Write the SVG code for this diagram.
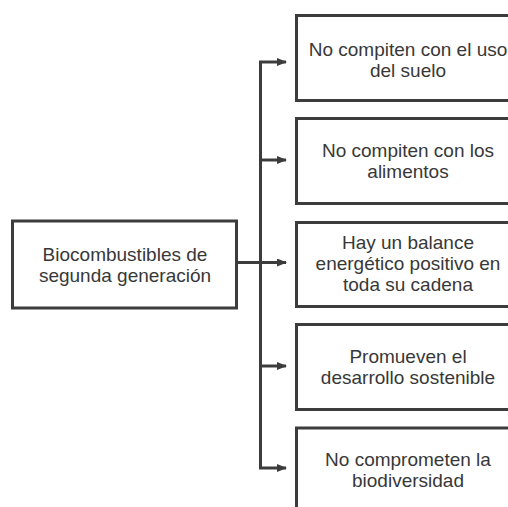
<svg xmlns="http://www.w3.org/2000/svg" width="508" height="507" viewBox="0 0 508 507">
<defs>
<style>
.box{fill:#fff;stroke:#3c3c3c;stroke-width:3}
.t{font-family:"Liberation Sans",Arial,sans-serif;font-size:19px;fill:#383838;text-anchor:middle}
.c{fill:none;stroke:#3c3c3c;stroke-width:3}
</style>
<marker id="ah" markerWidth="10" markerHeight="8" refX="9" refY="4" orient="auto" markerUnits="userSpaceOnUse">
<path d="M0,0 L10,4 L0,8 Z" fill="#3c3c3c"/>
</marker>
</defs>
<rect width="508" height="507" fill="#fff"/>
<g id="connectors">
<path class="c" d="M260.5,62 V468"/>
<path class="c" d="M238,262.5 H286" marker-end="url(#ah)"/>
<path class="c" d="M259,62 H286" marker-end="url(#ah)"/>
<path class="c" d="M260.5,160 H286" marker-end="url(#ah)"/>
<path class="c" d="M260.5,366 H286" marker-end="url(#ah)"/>
<path class="c" d="M259,468 H286" marker-end="url(#ah)"/>
</g>
<g id="root">
<rect class="box" x="12.5" y="221" width="224" height="87"/>
<text class="t" x="125" y="261">Biocombustibles de</text>
<text class="t" x="125" y="282">segunda generación</text>
</g>
<g id="n1">
<rect class="box" x="296.5" y="15.5" width="224" height="85"/>
<text class="t" x="408" y="56">No compiten con el uso</text>
<text class="t" x="408" y="77">del suelo</text>
</g>
<g id="n2">
<rect class="box" x="296.5" y="118.5" width="224" height="85"/>
<text class="t" x="408" y="157">No compiten con los</text>
<text class="t" x="408" y="178">alimentos</text>
</g>
<g id="n3">
<rect class="box" x="296.5" y="222.5" width="224" height="84"/>
<text class="t" x="408" y="249">Hay un balance</text>
<text class="t" x="408" y="270">energético positivo en</text>
<text class="t" x="408" y="291">toda su cadena</text>
</g>
<g id="n4">
<rect class="box" x="296.5" y="324.5" width="224" height="85"/>
<text class="t" x="408" y="363">Promueven el</text>
<text class="t" x="408" y="384">desarrollo sostenible</text>
</g>
<g id="n5">
<rect class="box" x="296.5" y="428" width="224" height="95"/>
<text class="t" x="408" y="466">No comprometen la</text>
<text class="t" x="408" y="487">biodiversidad</text>
</g>
</svg>
